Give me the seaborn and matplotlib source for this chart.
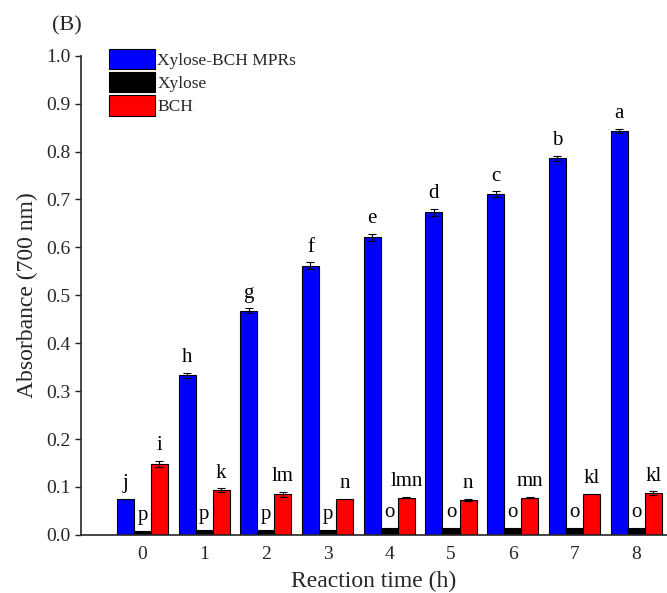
import matplotlib
matplotlib.use("Agg")
import matplotlib.pyplot as plt
import seaborn as sns
import pandas as pd
import numpy as np

times = ["0", "1", "2", "3", "4", "5", "6", "7", "8"]
series = ["Xylose-BCH MPRs", "Xylose", "BCH"]
mprs = [0.075, 0.333, 0.468, 0.562, 0.621, 0.673, 0.711, 0.786, 0.843]
mprs_err = [0.0, 0.005, 0.005, 0.007, 0.008, 0.007, 0.006, 0.005, 0.004]
xylose = [0.008, 0.010, 0.011, 0.011, 0.014, 0.014, 0.014, 0.014, 0.014]
xylose_err = [0.0, 0.0, 0.0, 0.0, 0.0, 0.0, 0.0, 0.0, 0.0]
bch = [0.148, 0.093, 0.085, 0.075, 0.078, 0.073, 0.078, 0.085, 0.087]
bch_err = [0.006, 0.004, 0.005, 0.0, 0.002, 0.002, 0.001, 0.0, 0.004]
mprs_letters = ["j", "h", "g", "f", "e", "d", "c", "b", "a"]
xylose_letters = ["p", "p", "p", "p", "o", "o", "o", "o", "o"]
bch_letters = ["i", "k", "lm", "n", "lmn", "n", "mn", "kl", "kl"]
colors = ["#0000ff", "#000000", "#ff0000"]

values = [mprs, xylose, bch]
errors = [mprs_err, xylose_err, bch_err]
letters = [mprs_letters, xylose_letters, bch_letters]

df = pd.DataFrame({
    "time": times * 3,
    "series": sum([[s] * len(times) for s in series], []),
    "value": mprs + xylose + bch,
})

sns.set_style("ticks")
plt.rcParams["font.family"] = ["Liberation Serif", "DejaVu Serif"]

fig = plt.figure(figsize=(6.67, 5.93), dpi=100)
ax = fig.add_axes([0.121, 0.098, 0.879, 0.808])

sns.barplot(data=df, x="time", y="value", hue="series", order=times,
            hue_order=series, palette=colors, width=0.83, errorbar=None,
            edgecolor="black", linewidth=0.8, ax=ax, saturation=1)

for cont, vals, errs, labs in zip(ax.containers, values, errors, letters):
    for patch, v, e, lab in zip(cont.patches, vals, errs, labs):
        xc = patch.get_x() + patch.get_width() / 2
        if e > 0:
            ax.errorbar(xc, v, yerr=e, fmt="none", ecolor="black",
                        elinewidth=0.8, capsize=3, capthick=0.8)
        ax.text(xc, v + e + 0.012, lab, ha="center", va="bottom",
                fontsize=15, color="black")

ax.set_ylim(0, 1.0)
ax.set_xlim(-1.0, 8.5)
ax.set_yticks(np.arange(0, 1.01, 0.1))
ax.set_yticklabels([f"{t:.1f}" for t in np.arange(0, 1.01, 0.1)], fontsize=14)
ax.tick_params(axis="x", length=0, labelsize=14, pad=8)
ax.tick_params(axis="y", length=4, width=1, direction="out")
ax.set_xlabel("Reaction time (h)", fontsize=17, labelpad=6)
ax.set_ylabel("Absorbance (700 nm)", fontsize=17, labelpad=6)
for s in ["top", "right"]:
    ax.spines[s].set_visible(False)
for s in ["left", "bottom"]:
    ax.spines[s].set_linewidth(1.2)

leg = ax.legend(loc="upper left", bbox_to_anchor=(0.036, 1.029), frameon=False,
                fontsize=12.5, handlelength=2.65, handleheight=1.45,
                handletextpad=0.15, labelspacing=0.14, borderaxespad=0)

fig.text(0.078, 0.957, "(B)", fontsize=16, ha="left", va="center")

fig.savefig("out.png", dpi=100)
